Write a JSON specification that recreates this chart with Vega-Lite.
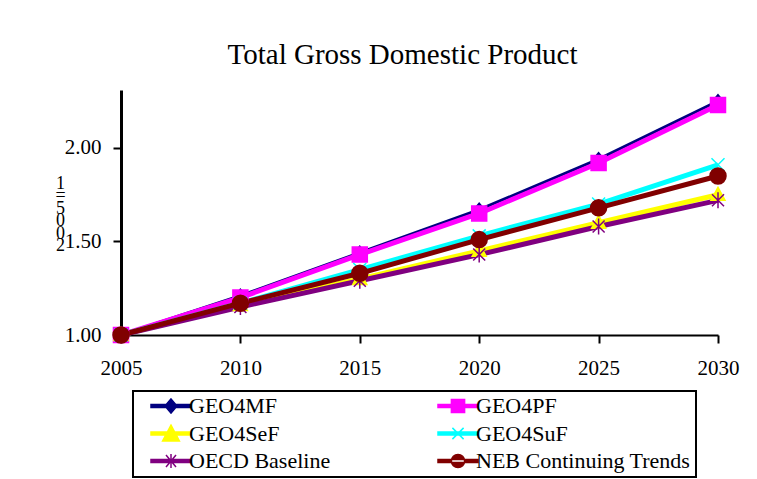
{
  "$schema": "https://vega.github.io/schema/vega-lite/v6.json",
  "width": 597,
  "height": 245,
  "autosize": {"type": "none"},
  "padding": {"left": 121, "top": 90, "right": 39, "bottom": 144},
  "background": "white",
  "config": {"view": {"stroke": null}, "legend": {"strokeWidth": 2}},
  "title": {
    "text": "Total Gross Domestic Product",
    "font": "Liberation Serif",
    "fontSize": 29,
    "fontWeight": "normal",
    "color": "black",
    "anchor": "middle",
    "dx": -17,
    "offset": 20
  },
  "data": {
    "values": [
      {"series": "GEO4MF", "year": 2005, "value": 1.00},
      {"series": "GEO4MF", "year": 2010, "value": 1.21},
      {"series": "GEO4MF", "year": 2015, "value": 1.44},
      {"series": "GEO4MF", "year": 2020, "value": 1.67},
      {"series": "GEO4MF", "year": 2025, "value": 1.94},
      {"series": "GEO4MF", "year": 2030, "value": 2.25},
      {"series": "GEO4PF", "year": 2005, "value": 1.00},
      {"series": "GEO4PF", "year": 2010, "value": 1.20},
      {"series": "GEO4PF", "year": 2015, "value": 1.43},
      {"series": "GEO4PF", "year": 2020, "value": 1.65},
      {"series": "GEO4PF", "year": 2025, "value": 1.92},
      {"series": "GEO4PF", "year": 2030, "value": 2.23},
      {"series": "GEO4SeF", "year": 2005, "value": 1.00},
      {"series": "GEO4SeF", "year": 2010, "value": 1.16},
      {"series": "GEO4SeF", "year": 2015, "value": 1.30},
      {"series": "GEO4SeF", "year": 2020, "value": 1.45},
      {"series": "GEO4SeF", "year": 2025, "value": 1.60},
      {"series": "GEO4SeF", "year": 2030, "value": 1.75},
      {"series": "GEO4SuF", "year": 2005, "value": 1.00},
      {"series": "GEO4SuF", "year": 2010, "value": 1.17},
      {"series": "GEO4SuF", "year": 2015, "value": 1.35},
      {"series": "GEO4SuF", "year": 2020, "value": 1.53},
      {"series": "GEO4SuF", "year": 2025, "value": 1.70},
      {"series": "GEO4SuF", "year": 2030, "value": 1.91},
      {"series": "OECD Baseline", "year": 2005, "value": 1.00},
      {"series": "OECD Baseline", "year": 2010, "value": 1.15},
      {"series": "OECD Baseline", "year": 2015, "value": 1.29},
      {"series": "OECD Baseline", "year": 2020, "value": 1.43},
      {"series": "OECD Baseline", "year": 2025, "value": 1.58},
      {"series": "OECD Baseline", "year": 2030, "value": 1.72},
      {"series": "NEB Continuing Trends", "year": 2005, "value": 1.00},
      {"series": "NEB Continuing Trends", "year": 2010, "value": 1.17},
      {"series": "NEB Continuing Trends", "year": 2015, "value": 1.33},
      {"series": "NEB Continuing Trends", "year": 2020, "value": 1.51},
      {"series": "NEB Continuing Trends", "year": 2025, "value": 1.68},
      {"series": "NEB Continuing Trends", "year": 2030, "value": 1.85}
    ]
  },
  "encoding": {
    "x": {
      "field": "year",
      "type": "quantitative",
      "scale": {"domain": [2005, 2030], "nice": false, "zero": false},
      "axis": {
        "title": null,
        "values": [2005, 2010, 2015, 2020, 2025, 2030],
        "format": "d",
        "grid": false,
        "labelFlush": false,
        "labelOverlap": false,
        "labelFont": "Liberation Serif",
        "labelFontSize": 21,
        "labelColor": "black",
        "labelPadding": 14,
        "tickSize": 8,
        "tickColor": "black",
        "tickWidth": 2,
        "domainColor": "black",
        "domainWidth": 2
      }
    },
    "y": {
      "field": "value",
      "type": "quantitative",
      "scale": {"domain": [1, 2.31], "nice": false, "zero": false},
      "axis": {
        "title": ["1", "=", "5", "0", "0", "2"],
        "titleAngle": 0,
        "titleX": -61,
        "titleY": 84,
        "titleAlign": "center",
        "titleBaseline": "top",
        "titleFont": "Liberation Serif",
        "titleFontSize": 18,
        "titleFontWeight": "normal",
        "titleLineHeight": 12.5,
        "titleColor": "black",
        "values": [1, 1.5, 2],
        "format": ".2f",
        "grid": false,
        "labelFlush": false,
        "labelOverlap": false,
        "labelFont": "Liberation Serif",
        "labelFontSize": 21,
        "labelColor": "black",
        "labelPadding": 12,
        "tickSize": 8,
        "tickColor": "black",
        "tickWidth": 2,
        "domainColor": "black",
        "domainWidth": 3
      }
    },
    "color": {
      "field": "series",
      "type": "nominal",
      "scale": {
        "domain": ["GEO4MF", "GEO4PF", "GEO4SeF", "GEO4SuF", "OECD Baseline", "NEB Continuing Trends"],
        "range": ["#000080", "#FF00FF", "#FFFF00", "#00FFFF", "#800080", "#800000"]
      },
      "legend": {
        "title": null,
        "orient": "none",
        "legendX": 12,
        "legendY": 301,
        "direction": "horizontal",
        "columns": 2,
        "columnPadding": 94,
        "rowPadding": 5.5,
        "padding": 5,
        "clipHeight": 20,
        "strokeColor": "black",
        "fillColor": "white",
        "labelFont": "Liberation Serif",
        "labelFontSize": 22,
        "labelColor": "black",
        "labelLimit": 400,
        "symbolSize": 1600,
        "symbolStrokeWidth": 1.5,
        "symbolOpacity": 1,
        "symbolOffset": 12,
        "labelOffset": -3
      }
    }
  },
  "layer": [
    {
      "transform": [{"filter": "datum.series === 'GEO4MF'"}],
      "mark": {"type": "line", "strokeWidth": 3}
    },
    {
      "transform": [{"filter": "datum.series !== 'GEO4MF'"}],
      "mark": {"type": "line", "strokeWidth": 5}
    },
    {
      "transform": [{"filter": "datum.year > 3000"}],
      "mark": {"type": "point", "filled": true, "strokeWidth": 1.5, "opacity": 1},
      "encoding": {
        "shape": {
          "field": "series",
          "type": "nominal",
          "scale": {
            "domain": ["GEO4MF", "GEO4PF", "GEO4SeF", "GEO4SuF", "OECD Baseline", "NEB Continuing Trends"],
            "range": [
              "M-1,-0.08L1,-0.08L1,0.08L-1,0.08ZM0,-0.35L0.3,0L0,0.35L-0.3,0Z",
              "M-1,-0.08L1,-0.08L1,0.08L-1,0.08ZM-0.33,-0.33L0.33,-0.33L0.33,0.33L-0.33,0.33Z",
              "M-1,-0.08L1,-0.08L1,0.08L-1,0.08ZM0,-0.42L0.42,0.38L-0.42,0.38Z",
              "M-1,-0.08L1,-0.08L1,0.08L-1,0.08ZM-0.28,-0.28L0.28,0.28M-0.28,0.28L0.28,-0.28",
              "M-1,-0.08L1,-0.08L1,0.08L-1,0.08ZM-0.25,-0.3L0.25,0.3M-0.25,0.3L0.25,-0.3M0,-0.35L0,0.35",
              "M-1,-0.08L1,-0.08L1,0.08L-1,0.08ZM-0.33,0A0.33,0.33 0 1,0 0.33,0A0.33,0.33 0 1,0 -0.33,0Z"
            ]
          }
        },
        "stroke": {
          "field": "series",
          "type": "nominal",
          "scale": {
            "domain": ["GEO4MF", "GEO4PF", "GEO4SeF", "GEO4SuF", "OECD Baseline", "NEB Continuing Trends"],
            "range": ["#000080", "#FF00FF", "#FFFF00", "#00FFFF", "#800080", "#800000"]
          }
        }
      }
    },
    {
      "transform": [{"filter": "datum.series === 'GEO4MF'"}],
      "mark": {"type": "point", "filled": true, "opacity": 1, "size": 400, "strokeWidth": 1.5, "shape": "M0,-0.65L0.55,0L0,0.65L-0.55,0Z"},
      "encoding": {"stroke": {"field": "series", "type": "nominal"}}
    },
    {
      "transform": [{"filter": "datum.series === 'GEO4PF'"}],
      "mark": {"type": "point", "filled": true, "opacity": 1, "size": 400, "strokeWidth": 1.5, "shape": "M-0.75,-0.75L0.75,-0.75L0.75,0.75L-0.75,0.75Z"},
      "encoding": {"stroke": {"field": "series", "type": "nominal"}}
    },
    {
      "transform": [{"filter": "datum.series === 'GEO4SeF'"}],
      "mark": {"type": "point", "filled": true, "opacity": 1, "size": 400, "strokeWidth": 1.5, "shape": "M0,-0.75L0.7,0.55L-0.7,0.55Z"},
      "encoding": {"stroke": {"field": "series", "type": "nominal"}}
    },
    {
      "transform": [{"filter": "datum.series === 'GEO4SuF'"}],
      "mark": {"type": "point", "filled": true, "opacity": 1, "size": 400, "strokeWidth": 1.5, "shape": "M-0.65,-0.65L0.65,0.65M-0.65,0.65L0.65,-0.65"},
      "encoding": {"stroke": {"field": "series", "type": "nominal"}}
    },
    {
      "transform": [{"filter": "datum.series === 'OECD Baseline'"}],
      "mark": {"type": "point", "filled": true, "opacity": 1, "size": 400, "strokeWidth": 1.5, "shape": "M-0.6,-0.6L0.6,0.6M-0.6,0.6L0.6,-0.6M0,-0.8L0,0.8"},
      "encoding": {"stroke": {"field": "series", "type": "nominal"}}
    },
    {
      "transform": [{"filter": "datum.series === 'NEB Continuing Trends'"}],
      "mark": {"type": "point", "filled": true, "opacity": 1, "size": 400, "strokeWidth": 1.5, "shape": "M-0.8,0A0.8,0.8 0 1,0 0.8,0A0.8,0.8 0 1,0 -0.8,0Z"},
      "encoding": {"stroke": {"field": "series", "type": "nominal"}}
    }
  ]
}
